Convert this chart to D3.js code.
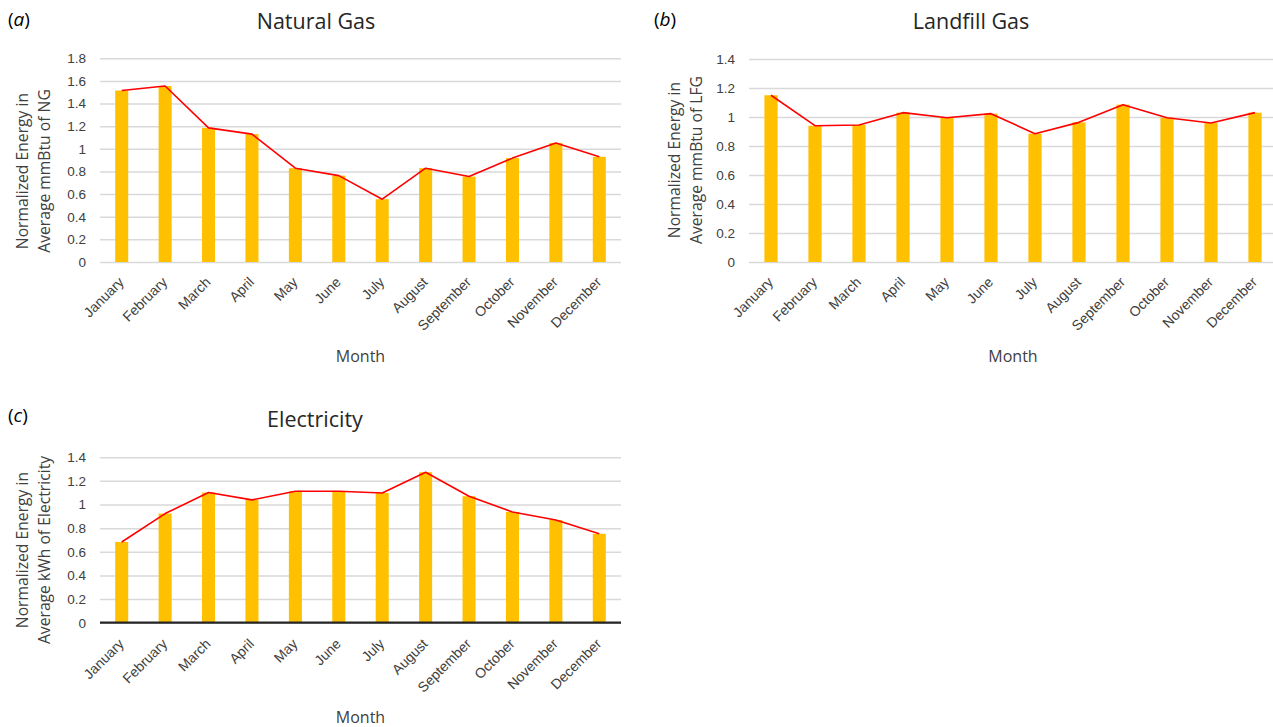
<!DOCTYPE html>
<html>
<head>
<meta charset="utf-8">
<script src="https://cdn.jsdelivr.net/npm/d3@7"></script>
<style>
  html, body { margin: 0; padding: 0; background: #fff; }
  svg { display: block; font-family: "Open Sans", "Liberation Sans", sans-serif; }
</style>
</head>
<body>
<svg id="chart" width="1273" height="727"></svg>
<script>
// Months shared by all three panels
const months = ["January", "February", "March", "April", "May", "June",
                "July", "August", "September", "October", "November", "December"];

// Normalized monthly energy, one array per fuel
const naturalGas  = [1.515, 1.555, 1.185, 1.130, 0.829, 0.763, 0.555, 0.829, 0.755, 0.918, 1.052, 0.930];
const landfillGas = [1.150, 0.940, 0.945, 1.030, 0.995, 1.023, 0.885, 0.963, 1.085, 0.995, 0.959, 1.030];
const electricity = [0.683, 0.923, 1.101, 1.039, 1.112, 1.112, 1.097, 1.273, 1.070, 0.937, 0.869, 0.752];

// Y-axis tick values for each panel
const ticksNG   = [0, 0.2, 0.4, 0.6, 0.8, 1, 1.2, 1.4, 1.6, 1.8];
const ticksLFG  = [0, 0.2, 0.4, 0.6, 0.8, 1, 1.2, 1.4];
const ticksElec = [0, 0.2, 0.4, 0.6, 0.8, 1, 1.2, 1.4];

const svg = d3.select("#chart");

const BAR = "#FFC000";
const LINE = "#FF0000";
const GRID = "#D9D9D9";
const TEXT = "#404040";

function drawPanel(p) {
  const g = svg.append("g");

  const x = d3.scaleBand()
    .domain(months)
    .range([p.left, p.right])
    .paddingInner(0.7)
    .paddingOuter(0.35);

  const y = d3.scaleLinear()
    .domain([0, p.ticks[p.ticks.length - 1]])
    .range([p.bottom, p.top]);

  // horizontal gridlines
  const yAxis = d3.axisLeft(y)
    .tickValues(p.ticks)
    .tickSize(-(p.right - p.left))
    .tickPadding(14)
    .tickFormat(d3.format("~g"));

  const ya = g.append("g")
    .attr("transform", `translate(${p.left},0)`)
    .call(yAxis);
  ya.select(".domain").remove();
  ya.selectAll(".tick line")
    .attr("stroke", GRID)
    .attr("stroke-width", 1.5);
  ya.selectAll(".tick text")
    .attr("fill", TEXT)
    .style("font-size", "13.5px");

  // bars
  g.append("g").selectAll("rect")
    .data(p.values)
    .join("rect")
    .attr("x", (d, i) => x(months[i]))
    .attr("width", x.bandwidth())
    .attr("y", d => y(d))
    .attr("height", d => p.bottom - y(d))
    .attr("fill", BAR);

  // baseline for the panel that draws a solid axis
  if (p.darkBase) {
    g.append("line")
      .attr("x1", p.left).attr("x2", p.right)
      .attr("y1", y(0)).attr("y2", y(0))
      .attr("stroke", "#262626")
      .attr("stroke-width", 2.2);
  }

  // trend line through the monthly values
  const line = d3.line()
    .x((d, i) => x(months[i]) + x.bandwidth() / 2)
    .y(d => y(d));
  g.append("path")
    .datum(p.values)
    .attr("d", line)
    .attr("fill", "none")
    .attr("stroke", LINE)
    .attr("stroke-width", 1.6)
    .attr("stroke-linejoin", "round");

  // rotated month labels
  const xa = g.append("g")
    .attr("transform", `translate(0,${p.bottom})`)
    .call(d3.axisBottom(x).tickSize(0).tickPadding(0));
  xa.select(".domain").remove();
  xa.selectAll(".tick text")
    .attr("fill", TEXT)
    .style("font-size", "14px")
    .attr("text-anchor", "end")
    .attr("dy", null)
    .attr("transform", `translate(3,${p.labelDrop}) rotate(-45)`);

  // title
  g.append("text")
    .attr("x", p.titleX).attr("y", p.titleY)
    .attr("text-anchor", "middle")
    .attr("fill", "#262626")
    .style("font-size", "21.5px")
    .text(p.title);

  // panel letter
  const lab = g.append("text")
    .attr("x", p.letterX).attr("y", p.letterY)
    .attr("fill", "#000")
    .style("font-size", "19px");
  lab.append("tspan").text("(");
  lab.append("tspan").style("font-style", "italic").text(p.letter);
  lab.append("tspan").text(")");

  // y-axis title, two lines
  p.yTitle.forEach((t, k) => {
    g.append("text")
      .attr("transform", `translate(${p.yTitleX + k * 22},${p.yTitleY}) rotate(-90)`)
      .attr("text-anchor", "middle")
      .attr("fill", TEXT)
      .style("font-size", "15.7px")
      .text(t);
  });

  // x-axis title
  g.append("text")
    .attr("x", (p.left + Math.min(p.right, 1273 + 6)) / 2)
    .attr("y", p.monthY)
    .attr("text-anchor", "middle")
    .attr("fill", TEXT)
    .style("font-size", "16px")
    .text("Month");
}

drawPanel({
  values: naturalGas, ticks: ticksNG,
  left: 100, right: 621, top: 58.3, bottom: 262,
  title: "Natural Gas", titleX: 316, titleY: 29,
  letter: "a", letterX: 8, letterY: 26,
  yTitle: ["Normalized Energy in", "Average mmBtu of NG"], yTitleX: 28, yTitleY: 171,
  labelDrop: 21,
  monthY: 361.5
});

drawPanel({
  values: landfillGas, ticks: ticksLFG,
  left: 749, right: 1277, top: 59, bottom: 262,
  title: "Landfill Gas", titleX: 971, titleY: 29,
  letter: "b", letterX: 654, letterY: 26,
  yTitle: ["Normalized Energy in", "Average mmBtu of LFG"], yTitleX: 680, yTitleY: 160,
  labelDrop: 21,
  monthY: 361.5
});

drawPanel({
  values: electricity, ticks: ticksElec,
  left: 100, right: 621, top: 457.2, bottom: 622.7,
  title: "Electricity", titleX: 315, titleY: 427,
  letter: "c", letterX: 8, letterY: 422,
  yTitle: ["Normalized Energy in", "Average kWh of Electricity"], yTitleX: 28, yTitleY: 550,
  labelDrop: 22,
  monthY: 723,
  darkBase: true
});
</script>
</body>
</html>
